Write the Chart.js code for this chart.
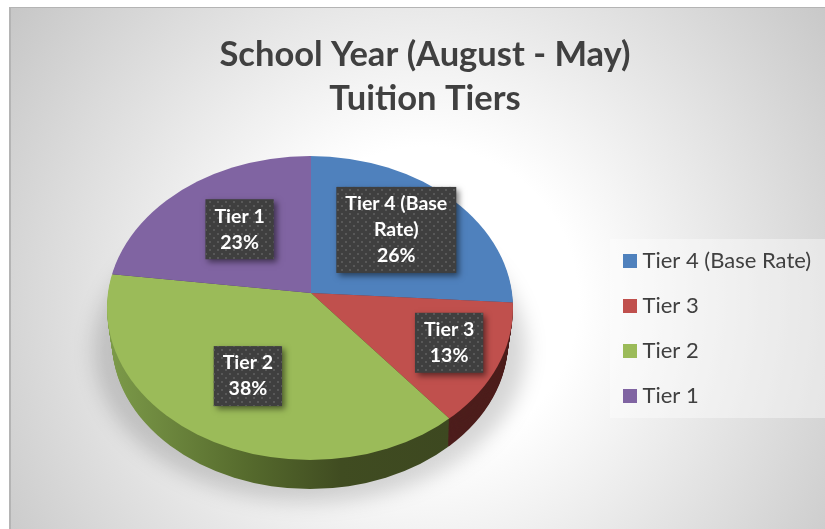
<!DOCTYPE html>
<html>
<head>
<meta charset="utf-8">
<title>School Year Tuition Tiers</title>
<style>
  html, body { margin: 0; padding: 0; background: #fff; }
  canvas { display: block; }
</style>
<script src="https://cdn.jsdelivr.net/npm/chart.js@4/dist/chart.umd.min.js"></script>
</head>
<body>
<canvas id="tierChart" width="825" height="529"></canvas>
<script>
// Chart data
const titleLines = ['School Year (August - May)', 'Tuition Tiers'];
const tierLabels = ['Tier 4 (Base Rate)', 'Tier 3', 'Tier 2', 'Tier 1'];
const tierValues = [26, 13, 38, 23];
const tierColors = ['#4f81bd', '#c0504d', '#9bbb59', '#8064a2'];

// How far out from the pie centre each data label sits
const labelRadii = [117, 155, 131, 108];

const FONT = 'Lato, "Open Sans", sans-serif';
const TEXT_COLOR = '#404040';

// Fake 3D: the top face is an ellipse, the slices meet above its middle
const top3d = { x: 310, y: 308, rx: 203, ry: 152 };
const vertex = { x: 311, y: 293 };
const tilt = 0.75;
const sweepRadius = 230;
const depth = 29;

function faceAt(d) {
  return {
    x: top3d.x,
    y: top3d.y + d * 1.13,
    rx: top3d.rx - d * 0.17,
    ry: top3d.ry - d * 0.13
  };
}

// Clip to the face at depth d and map chart space on to the tilted pie
function enterFace(chart, ctx, d) {
  const arc = chart.getDatasetMeta(0).data[0];
  const f = faceAt(d);
  const s = sweepRadius / arc.outerRadius;
  ctx.save();
  ctx.beginPath();
  ctx.ellipse(f.x, f.y, f.rx, f.ry, 0, 0, Math.PI * 2);
  ctx.clip();
  ctx.translate(vertex.x, vertex.y + d);
  ctx.scale(s, s * tilt);
  ctx.translate(-arc.x, -arc.y);
}

function sideFill(chart, ctx, index) {
  if (index !== 2) {
    return ['#2f4a6e', '#4d1e1c', '', '#46365a'][index];
  }
  // gradient stops are given in page x, converted to chart space
  const arc = chart.getDatasetMeta(0).data[0];
  const s = sweepRadius / arc.outerRadius;
  const toChart = x => arc.x + (x - vertex.x) / s;
  const g = ctx.createLinearGradient(toChart(110), 0, toChart(450), 0);
  g.addColorStop(0, '#7c9a49');
  g.addColorStop(0.4, '#566b2d');
  g.addColorStop(0.68, '#404c21');
  g.addColorStop(1, '#3d4820');
  return g;
}

const scenePlugin = {
  id: 'scene',
  beforeDraw(chart) {
    const ctx = chart.ctx;
    ctx.save();
    // panel background
    const bg = ctx.createRadialGradient(425, 300, 0, 425, 300, 510);
    bg.addColorStop(0, '#ffffff');
    bg.addColorStop(0.3, '#ffffff');
    bg.addColorStop(1, '#c6c6c6');
    ctx.fillStyle = bg;
    ctx.fillRect(9, 7, 816, 522);
    ctx.fillStyle = '#b4b4b4';
    ctx.fillRect(9, 7, 816, 1);
    ctx.fillRect(9, 7, 2, 522);
    // legend backing
    ctx.fillStyle = 'rgba(255,255,255,0.4)';
    ctx.fillRect(610, 239, 215, 179);
    // soft shadow under the pie
    ctx.filter = 'blur(10px)';
    ctx.fillStyle = 'rgba(0,0,0,0.16)';
    ctx.beginPath();
    ctx.ellipse(310, 350, 216, 152, 0, 0, Math.PI * 2);
    ctx.fill();
    ctx.restore();

    // legend goes in its own box, away from where the layout puts it
    chart.legend.left = 605.5;
    chart.legend.top = 227;
  },
  beforeDatasetDraw(chart) {
    const ctx = chart.ctx;
    const arcs = chart.getDatasetMeta(0).data;
    for (let d = depth; d >= 1; d--) {
      enterFace(chart, ctx, d);
      arcs.forEach((arc, i) => {
        const opts = arc.options;
        arc.options = Object.assign({}, opts, { backgroundColor: sideFill(chart, ctx, i) });
        arc.draw(ctx);
        arc.options = opts;
      });
      ctx.restore();
    }
    enterFace(chart, ctx, 0);
  },
  afterDatasetDraw(chart) {
    chart.ctx.restore();
  },
  afterDraw(chart) {
    const ctx = chart.ctx;
    const arcs = chart.getDatasetMeta(0).data;
    const pattern = dotPattern(ctx);
    ctx.save();
    ctx.font = 'bold 19.5px ' + FONT;
    ctx.textAlign = 'center';
    ctx.textBaseline = 'middle';
    arcs.forEach((arc, i) => {
      const mid = (arc.startAngle + arc.endAngle) / 2;
      const cx = vertex.x + labelRadii[i] * Math.cos(mid);
      const cy = vertex.y + labelRadii[i] * Math.sin(mid) * tilt - 3;
      const lines = wrapLabel(ctx, tierLabels[i], 112);
      lines.push(tierValues[i] + '%');
      const w = Math.max(...lines.map(l => ctx.measureText(l).width)) + 18;
      const h = lines.length * 26 + 8;
      const x = cx - w / 2;
      const y = cy - h / 2;

      ctx.save();
      ctx.shadowColor = 'rgba(0,0,0,0.5)';
      ctx.shadowBlur = 6;
      ctx.shadowOffsetX = 3;
      ctx.shadowOffsetY = 3;
      ctx.fillStyle = '#3f3f3f';
      ctx.fillRect(x, y, w, h);
      ctx.restore();
      ctx.fillStyle = pattern;
      ctx.fillRect(x, y, w, h);

      ctx.fillStyle = '#ffffff';
      lines.forEach((line, n) => {
        ctx.fillText(line, cx, y + 4 + 13 + n * 26);
      });
    });
    ctx.restore();
  }
};

function dotPattern(ctx) {
  const tile = document.createElement('canvas');
  tile.width = 8;
  tile.height = 8;
  const t = tile.getContext('2d');
  t.fillStyle = '#585858';
  t.fillRect(1, 1, 2, 2);
  t.fillRect(5, 5, 2, 2);
  return ctx.createPattern(tile, 'repeat');
}

function wrapLabel(ctx, text, maxWidth) {
  const lines = [];
  let line = '';
  text.split(' ').forEach(word => {
    const next = line ? line + ' ' + word : word;
    if (line && ctx.measureText(next).width > maxWidth) {
      lines.push(line);
      line = word;
    } else {
      line = next;
    }
  });
  lines.push(line);
  return lines;
}

new Chart(document.getElementById('tierChart'), {
  type: 'pie',
  data: {
    labels: tierLabels,
    datasets: [{
      data: tierValues,
      backgroundColor: tierColors,
      borderWidth: 0,
      clip: false
    }]
  },
  options: {
    responsive: false,
    animation: false,
    events: [],
    layout: { padding: { left: 25 } },
    plugins: {
      tooltip: { enabled: false },
      title: {
        display: true,
        text: titleLines,
        color: TEXT_COLOR,
        font: { family: FONT, size: 34.5, weight: 'bold', lineHeight: 1.275 },
        padding: { top: 33, bottom: 0 }
      },
      legend: {
        position: 'right',
        align: 'start',
        labels: {
          color: TEXT_COLOR,
          font: { family: FONT, size: 22 },
          usePointStyle: true,
          pointStyle: 'rect',
          boxWidth: 3,
          boxHeight: 14,
          padding: 23
        }
      }
    }
  },
  plugins: [scenePlugin]
});
</script>
</body>
</html>
